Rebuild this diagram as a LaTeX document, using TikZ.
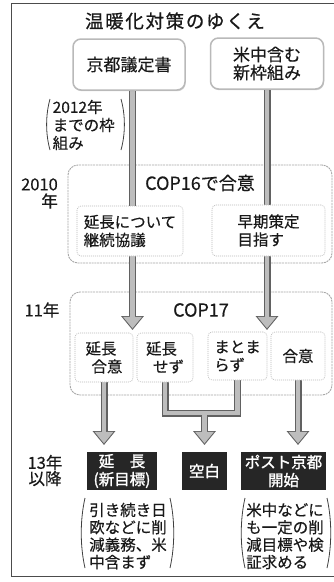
\documentclass[tikz,border=0pt]{standalone}
\usepackage{fontspec}
\setmainfont[FakeBold=0.4]{Noto Sans CJK JP}
\newfontfamily\boldcjk[FakeBold=1.5]{Noto Sans CJK JP}
\newfontfamily\titlecjk[FakeBold=0.7,LetterSpace=9]{Noto Sans CJK JP}
\usetikzlibrary{arrows.meta,shadows}
\pgfdeclarelayer{bg}
\pgfdeclarelayer{barl}
\pgfsetlayers{bg,barl,main}
\tikzset{
  lbl/.style={text=black!90, inner sep=0pt},
  topbox/.style={draw=gray!55, line width=1.5pt, rounded corners=8pt, fill=white,
     drop shadow={shadow xshift=0.6pt, shadow yshift=-1.2pt, opacity=.35},
     minimum width=112pt, minimum height=51pt, align=center,
     font=\fontsize{17}{18}\selectfont, text=black!90, inner sep=0pt},
  copbox/.style={draw=gray!70, line width=0.9pt, dash pattern=on 2pt off 0.8pt,
     rounded corners=10pt, fill=white, inner sep=0pt},
  inbox/.style={draw=gray!55, line width=0.6pt, dash pattern=on 1pt off 1pt,
     rounded corners=4pt, fill=white, align=left,
     font=\fontsize{15.5}{18}\selectfont, text=black!90, inner sep=0pt},
  darkbox/.style={fill=black!85, text=white, align=center,
     font=\boldcjk\fontsize{15.5}{18}\selectfont, inner sep=0pt, minimum height=38pt},
  note/.style={lbl, align=left, font=\fontsize{15.5}{17.4}\selectfont},
  paren/.style={draw=black!75, line width=0.8pt},
  barout/.style={draw=black!62, line width=7pt},
  barin/.style={draw=gray!52, line width=4.6pt},
  arrout/.style={barout, -{Triangle[width=22pt,length=14pt]}},
  arrin/.style={barin, shorten >=1.6pt, -{Triangle[width=18pt,length=11.5pt]}},
}
\begin{document}
\begin{tikzpicture}[x=1pt,y=-1pt]
\useasboundingbox (0,0) rectangle (334,582);
\clip (0,0) rectangle (334,582);
\begin{pgfonlayer}{bg}
\fill[white] (0,0) rectangle (334,582);
\draw[black!70, line width=0.9pt] (11,3) rectangle (345,576);
\node[copbox, minimum width=264pt, minimum height=98pt] (cop16) at (200,214) {};
\node[copbox, minimum width=262pt, minimum height=103pt] (cop17) at (201,343.5) {};
\end{pgfonlayer}

% title
\node[lbl, font=\titlecjk\fontsize{18.5}{20}\selectfont] (title) at (175,21) {温暖化対策のゆくえ};

% top boxes
\node[topbox] (kyoto) at (129,64.5) {京都議定書};
\node[topbox, minimum width=113pt] (newfw) at (267,63.5) {米中含む\\新枠組み};

% note 2012
\node[note, font=\fontsize{15.5}{18}\selectfont, anchor=west] (n2012) at (52.5,125) {2012年\\までの枠\\組み};
\draw[paren] (50,99) .. controls (45.5,115) and (45.5,134) .. (50,150);
\draw[paren] (121,99) .. controls (125.5,115) and (125.5,134) .. (121,150);

% COP16
\node[lbl, font=\fontsize{18}{20}\selectfont] (cop16t) at (200,183) {COP16で合意};
\node[lbl, font=\fontsize{16.5}{17}\selectfont, align=right, anchor=east] (y2010) at (58,193.5) {2010\\年};
\node[inbox, minimum width=106pt, minimum height=50pt] (ench) at (130,231) {延長について\\継続協議};
\node[inbox, minimum width=113pt, minimum height=51pt] (souki) at (268.5,230.5) {早期策定\\目指す};

% COP17
\node[lbl, font=\fontsize{18}{20}\selectfont] (cop17t) at (201,310) {COP17};
\node[lbl, font=\fontsize{16.5}{17}\selectfont] (y11) at (42,310) {11年};
\node[inbox, minimum width=58pt, minimum height=49pt] (ia) at (104,357.5) {延長\\\hspace*{6pt}合意};
\node[inbox, minimum width=56pt, minimum height=49pt] (ns) at (165,357.5) {延長\\\hspace*{7pt}せず};
\node[inbox, minimum width=59pt, minimum height=48pt] (mt) at (237.5,356) {まとま\\らず};
\node[inbox, minimum width=54pt, minimum height=48pt] (gi) at (298,356) {合意};

% 13年以降
\node[lbl, font=\fontsize{16.5}{16}\selectfont, align=center] (y13) at (45,470.5) {13年\\以降};
\node[darkbox, minimum width=70pt] (enc) at (122,471) {延　長\\(新目標)};
\node[darkbox, minimum width=45pt] (ku) at (204.5,471) {空白};
\node[darkbox, minimum width=85pt] (post) at (283.5,471) {ポスト京都\\開始};

% bottom notes
\node[note] (noteL) at (128,536) {引き続き日\\欧などに削\\減義務、米\\中含まず};
\draw[paren] (85,498) .. controls (80,520) and (80,546) .. (85,568);
\draw[paren] (170,498) .. controls (175,520) and (175,546) .. (170,568);
\node[note] (noteR) at (285,536) {米中などに\\も一定の削\\減目標や検\\証求める};
\draw[paren] (245,498) .. controls (240,520) and (240,546) .. (245,568);
\draw[paren] (327,498) .. controls (332,520) and (332,546) .. (327,568);

% bars
\begin{pgfonlayer}{barl}
\coordinate (t1) at (132.5,330);
\coordinate (tipy) at (0,445);
\coordinate (jn) at (204.5,413);
\draw[arrout] ([xshift=3.5pt]kyoto.south) -- (t1);
\draw[arrout] (newfw.south) -- (newfw.south |- t1);
\draw[arrout] (ia.south) -- (ia.south |- tipy);
\draw[barout] (ns.south) |- (jn) -| (mt.south);
\draw[arrout] (jn) -- (jn |- tipy);
\draw[arrout] (gi.south) -- (gi.south |- tipy);
\draw[arrin] ([xshift=3.5pt]kyoto.south) -- (t1);
\draw[arrin] (newfw.south) -- (newfw.south |- t1);
\draw[arrin] (ia.south) -- (ia.south |- tipy);
\draw[barin] (ns.south) |- (jn) -| (mt.south);
\draw[arrin] (jn) -- (jn |- tipy);
\draw[arrin] (gi.south) -- (gi.south |- tipy);
\end{pgfonlayer}
\end{tikzpicture}
\end{document}
